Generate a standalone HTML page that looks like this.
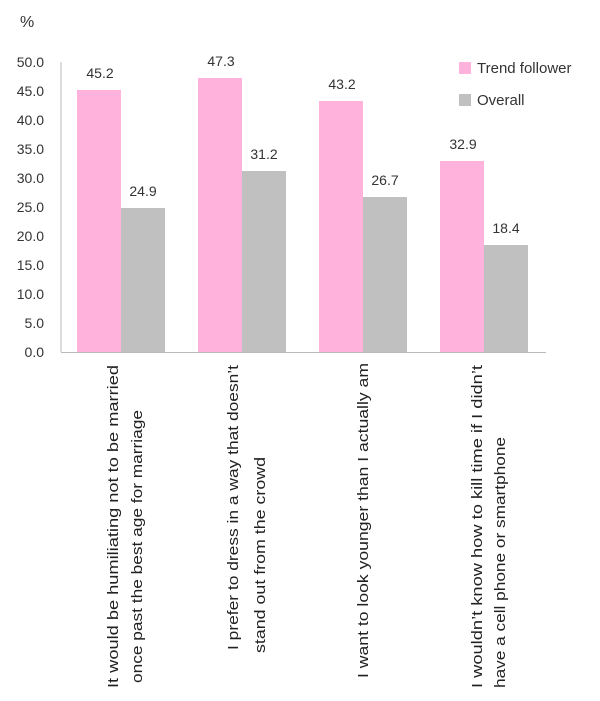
<!DOCTYPE html>
<html><head><meta charset="utf-8"><style>body{margin:0;background:#fff}svg{display:block;font-family:"Liberation Sans",sans-serif}</style></head><body>
<svg width="600" height="701" viewBox="0 0 600 701" xmlns="http://www.w3.org/2000/svg">
<text x="20" y="27" font-size="16" fill="#333">%</text>
<g font-size="14" fill="#333" text-anchor="end">
<text x="44" y="67">50.0</text><text x="44" y="96">45.0</text><text x="44" y="125">40.0</text>
<text x="44" y="154">35.0</text><text x="44" y="183">30.0</text><text x="44" y="212">25.0</text>
<text x="44" y="241">20.0</text><text x="44" y="270">15.0</text><text x="44" y="299">10.0</text>
<text x="44" y="328">5.0</text><text x="44" y="357">0.0</text>
</g>
<line x1="61" y1="62" x2="61" y2="352" stroke="#bbb"/>
<line x1="61" y1="352.5" x2="546" y2="352.5" stroke="#bbb"/>
<g fill="#ffb3dc">
<rect x="77" y="90" width="44" height="262"/><rect x="198" y="78" width="44" height="274"/>
<rect x="319" y="101" width="44" height="251"/><rect x="440" y="161" width="44" height="191"/>
</g>
<g fill="#c0c0c0">
<rect x="121" y="208" width="44" height="144"/><rect x="242" y="171" width="44" height="181"/>
<rect x="363" y="197" width="44" height="155"/><rect x="484" y="245" width="44" height="107"/>
</g>
<g font-size="14" fill="#333" text-anchor="middle">
<text x="100" y="78">45.2</text><text x="143" y="196">24.9</text>
<text x="221" y="66">47.3</text><text x="264" y="159">31.2</text>
<text x="342" y="89">43.2</text><text x="385" y="185">26.7</text>
<text x="463" y="149">32.9</text><text x="506" y="233">18.4</text>
</g>
<rect x="459" y="62" width="12" height="12" fill="#ffb3dc"/>
<text x="477" y="73" font-size="15" fill="#333">Trend follower</text>
<rect x="459" y="94" width="12" height="12" fill="#c0c0c0"/>
<text x="477" y="105" font-size="15" fill="#333">Overall</text>
<g font-size="15" fill="#222">
<text transform="translate(118,688) rotate(-90)" textLength="323" lengthAdjust="spacingAndGlyphs">It would be humiliating not to be married</text>
<text transform="translate(142,683) rotate(-90)" textLength="273" lengthAdjust="spacingAndGlyphs">once past the best age for marriage</text>
<text transform="translate(238,650) rotate(-90)" textLength="285" lengthAdjust="spacingAndGlyphs">I prefer to dress in a way that doesn’t</text>
<text transform="translate(265,653) rotate(-90)" textLength="196" lengthAdjust="spacingAndGlyphs">stand out from the crowd</text>
<text transform="translate(368,678) rotate(-90)" textLength="315" lengthAdjust="spacingAndGlyphs">I want to look younger than I actually am</text>
<text transform="translate(482,688) rotate(-90)" textLength="323" lengthAdjust="spacingAndGlyphs">I wouldn’t know how to kill time if I didn’t</text>
<text transform="translate(505,688) rotate(-90)" textLength="251" lengthAdjust="spacingAndGlyphs">have a cell phone or smartphone</text>
</g>
</svg>
</body></html>
